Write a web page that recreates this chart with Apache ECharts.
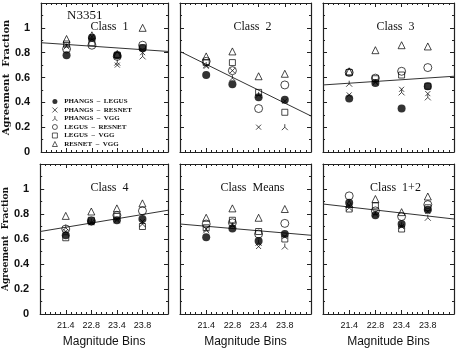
<!DOCTYPE html>
<html>
<head>
<meta charset="utf-8">
<script src="https://cdn.jsdelivr.net/npm/echarts@6/dist/echarts.min.js"></script>
<style>
  html, body { margin: 0; padding: 0; background: #fff; }
  #chart { width: 457px; height: 349px; }
</style>
</head>
<body>
<div id="chart"></div>
<script>
// magnitude bins (x positions 1..4)
const bins = ['21.4', '22.8', '23.4', '23.8']
const panelNames = ['Class  1', 'Class  2', 'Class  3', 'Class  4', 'Class  Means', 'Class  1+2']

// agreement fraction, one row per panel (Class 1, 2, 3, 4, Means, 1+2)
const phangsLegus = [
  [0.78, 0.92, 0.78, 0.835],
  [0.62, 0.545, 0.44, 0.42],
  [0.43, 0.555, 0.35, 0.53],
  [0.63, 0.74, 0.75, 0.76],
  [0.615, 0.685, 0.585, 0.64],
  [0.89, 0.79, 0.72, 0.835]
]
const phangsResnet = [
  [0.86, 0.93, 0.70, 0.80],
  [0.69, 0.655, 0.20, 0.41],
  [0.46, 0.57, 0.505, 0.47],
  [0.66, 0.73, 0.76, 0.74],
  [0.68, 0.72, 0.54, 0.62],
  [0.87, 0.81, 0.70, 0.82]
]
const phangsVgg = [
  [0.85, 0.91, 0.72, 0.77],
  [0.70, 0.595, 0.46, 0.20],
  [0.55, 0.56, 0.48, 0.44],
  [0.69, 0.74, 0.75, 0.72],
  [0.67, 0.71, 0.57, 0.54],
  [0.85, 0.80, 0.71, 0.77]
]
const legusResnet = [
  [0.83, 0.86, 0.77, 0.86],
  [0.73, 0.655, 0.35, 0.54],
  [0.64, 0.595, 0.65, 0.68],
  [0.68, 0.745, 0.79, 0.825],
  [0.72, 0.73, 0.64, 0.725],
  [0.945, 0.825, 0.78, 0.875]
]
const legusVgg = [
  [0.87, 0.88, 0.78, 0.84],
  [0.72, 0.72, 0.48, 0.32],
  [0.64, 0.59, 0.62, 0.53],
  [0.61, 0.75, 0.78, 0.70],
  [0.69, 0.75, 0.66, 0.60],
  [0.84, 0.865, 0.68, 0.85]
]
const resnetVgg = [
  [0.91, 0.94, 0.79, 1.0],
  [0.77, 0.81, 0.61, 0.63],
  [0.65, 0.82, 0.86, 0.85],
  [0.785, 0.82, 0.845, 0.885],
  [0.77, 0.845, 0.77, 0.84],
  [0.88, 0.92, 0.815, 0.94]
]
// straight-line fit, value at x = 0 and x = 5
const fitLeft = [0.88, 0.81, 0.54, 0.66, 0.72, 0.88]
const fitRight = [0.81, 0.29, 0.61, 0.83, 0.63, 0.76]

const pairs = [
  { name: 'PHANGS  –  LEGUS', data: phangsLegus, symbol: 'circle', size: 8, filled: true },
  { name: 'PHANGS  –  RESNET', data: phangsResnet, symbol: 'path://M0,0L10,10M10,0L0,10', size: 5 },
  { name: 'PHANGS  –  VGG', data: phangsVgg, symbol: 'path://M5,0L5,5L0,10M5,5L10,10', size: 6 },
  { name: 'LEGUS  –  RESNET', data: legusResnet, symbol: 'circle', size: 8 },
  { name: 'LEGUS  –  VGG', data: legusVgg, symbol: 'rect', size: 6 },
  { name: 'RESNET  –  VGG', data: resnetVgg, symbol: 'triangle', size: 7 }
]

const grids = [
  { left: 37, top: 3, width: 131, height: 149 },
  { left: 180, top: 3, width: 131, height: 149 },
  { left: 323, top: 3, width: 131, height: 149 },
  { left: 37, top: 164, width: 131, height: 150 },
  { left: 180, top: 164, width: 131, height: 150 },
  { left: 323, top: 164, width: 131, height: 150 }
]

const ink = '#222'
let xAxis = []
let yAxis = []
let series = []
let titles = []

grids.forEach(function (g, i) {
  let row = Math.floor(i / 3)
  let col = i % 3
  let tick = { show: true, inside: true, length: 4, lineStyle: { color: ink, width: 1 } }
  let minor = { show: true, length: 2, lineStyle: { color: ink, width: 1 } }
  let line = { show: true, onZero: false, lineStyle: { color: ink, width: 1.2 } }
  ;['bottom', 'top'].forEach(function (pos) {
    xAxis.push({
      gridIndex: i, type: 'value', position: pos, min: 0, max: 5, interval: 1,
      axisLine: line, axisTick: tick, minorTick: Object.assign({ splitNumber: 5 }, minor),
      splitLine: { show: false },
      axisLabel: {
        show: pos === 'bottom' && row === 1, margin: 7,
        color: '#111', fontSize: 9, fontFamily: "'Liberation Sans Narrow', 'Liberation Sans', sans-serif",
        formatter: function (v) { return bins[v - 1] || '' }
      },
      name: pos === 'bottom' && row === 1 ? 'Magnitude Bins' : '',
      nameLocation: 'middle', nameGap: 22,
      nameTextStyle: { color: '#111', fontSize: 12, fontFamily: "'Liberation Sans', sans-serif" }
    })
  })
  ;['left', 'right'].forEach(function (pos) {
    yAxis.push({
      gridIndex: i, type: 'value', position: pos, min: 0, max: 1.2, interval: 0.2,
      axisLine: line, axisTick: tick, minorTick: Object.assign({ splitNumber: 2 }, minor),
      splitLine: { show: false },
      axisLabel: {
        show: pos === 'left' && col === 0, margin: 11,
        color: '#111', fontSize: 11, fontWeight: 'bold', fontFamily: "'Liberation Sans', sans-serif",
        formatter: function (v) { return v > 1.01 ? '' : String(Math.round(v * 10) / 10) }
      },
      name: pos === 'left' && col === 0 ? 'Agreement  Fraction' : '',
      nameLocation: 'middle', nameGap: 18, nameRotate: 90,
      nameTextStyle: { color: '#111', fontSize: row === 0 ? 10 : 9, fontWeight: 'bold', fontFamily: "'DejaVu Serif', serif" }
    })
  })
  pairs.forEach(function (p) {
    series.push({
      name: p.name, type: 'scatter', xAxisIndex: i * 2, yAxisIndex: i * 2,
      symbol: p.symbol, symbolSize: p.size, symbolKeepAspect: true,
      itemStyle: p.filled
        ? { color: '#000' }
        : { color: 'rgba(255,255,255,0)', borderColor: '#000', borderWidth: 0.9 },
      data: p.data[i].map(function (v, k) { return [k + 1, v] }),
      z: 3
    })
  })
  series.push({
    name: 'fit', type: 'line', xAxisIndex: i * 2, yAxisIndex: i * 2,
    symbol: 'none', silent: true,
    lineStyle: { color: '#333', width: 1 },
    data: [[0, fitLeft[i]], [5, fitRight[i]]],
    z: 2
  })
  titles.push({
    text: panelNames[i], left: g.left + g.width / 2 + 2, top: g.top + 13, textAlign: 'center',
    textStyle: { color: '#111', fontSize: 12, fontWeight: 'normal', fontFamily: "'Liberation Serif', serif" }
  })
})
titles.push({
  text: 'N3351', left: 62, top: 4,
  textStyle: { color: '#111', fontSize: 13, fontWeight: 'normal', fontFamily: "'Liberation Serif', serif" }
})

const option = {
  animation: false,
  backgroundColor: '#fff',
  title: titles,
  grid: grids,
  xAxis: xAxis,
  yAxis: yAxis,
  legend: {
    data: pairs.map(function (p) { return { name: p.name } }),
    orient: 'vertical', left: 47, top: 93,
    itemWidth: 5, itemHeight: 5, itemGap: 1.5,
    itemStyle: { borderWidth: 0.8 },
    selectedMode: false,
    formatter: function (name) { return ' ' + name },
    textStyle: { color: '#111', fontSize: 7, fontWeight: 'bold', fontFamily: "'Liberation Serif', serif", lineHeight: 7 }
  },
  series: series
}

const chart = echarts.init(document.getElementById('chart'), null, { renderer: 'canvas' })
chart.setOption(option)
</script>
</body>
</html>
